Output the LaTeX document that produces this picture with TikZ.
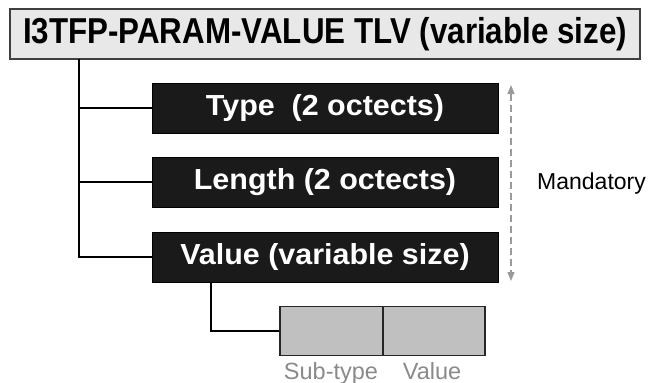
\documentclass[tikz,border=0pt]{standalone}
\usepackage{fontspec}
\setmainfont{Liberation Sans}
\newfontfamily\titlefont[FakeStretch=0.87]{Liberation Sans}
\newfontfamily\boxfont[FakeStretch=1.05]{Liberation Sans}
\usetikzlibrary{arrows.meta}
\definecolor{titlefill}{HTML}{E8E8E8}
\definecolor{boxfill}{HTML}{1A1A1A}
\definecolor{subfill}{HTML}{C0C0C0}
\definecolor{labelgray}{HTML}{8A8A8A}
\definecolor{arrowgray}{HTML}{9A9A9A}
\begin{document}
\begin{tikzpicture}[x=1pt,y=-1pt,
  titlebox/.style={draw=black!75, line width=1.3pt, fill=titlefill, minimum width=630pt, minimum height=50pt, inner sep=0pt,
    font=\titlefont\bfseries\fontsize{36}{40}\selectfont},
  fieldbox/.style={draw=black, line width=0.8pt, fill=boxfill, text=white, minimum width=346pt, minimum height=50pt, inner sep=0pt,
    font=\boxfont\bfseries\fontsize{29}{32}\selectfont},
  subbox/.style={draw=black!85, line width=1.2pt, fill=subfill, minimum height=49pt, inner sep=0pt},
  conn/.style={draw=black, line width=1.2pt},
  sublabel/.style={text=labelgray, font=\fontsize{23.5}{28}\selectfont, inner sep=0pt}
]
\useasboundingbox (0,0) rectangle (651,383);
\node[titlebox] (title) at (325,34) {I3TFP-PARAM-VALUE TLV (variable size)};
\node[fieldbox] (type) at (325,108) {Type\ \ (2 octects)};
\node[fieldbox] (length) at (325,182) {Length (2 octects)};
\node[fieldbox] (value) at (325,257) {Value (variable size)};
\node[subbox, minimum width=103pt] (subtype) at (331.5,331) {};
\node[subbox, minimum width=102pt] (subval) at (434,331) {};
\coordinate (trunk) at (79,59);
\coordinate (vtap) at (211,282);
\draw[conn] (trunk) |- (value.west);
\draw[conn] (trunk |- type.west) -- (type.west);
\draw[conn] (trunk |- length.west) -- (length.west);
\draw[conn] (vtap) |- (subtype.west);
\coordinate (atop) at (511,85);
\coordinate (abot) at (511,281);
\draw[arrowgray, line width=1.2pt, dash pattern=on 7pt off 4pt, {Triangle[width=7pt,length=9pt]}-{Triangle[width=7pt,length=9pt]}] (atop) -- (abot);
\node[anchor=base west, inner sep=0pt, font=\fontsize{23}{27}\selectfont] (mand) at (537,189) {Mandatory};
\node[sublabel, anchor=base] (lsub) at (331,379) {Sub-type};
\node[sublabel, anchor=base] (lval) at (432,379.5) {Value};
\end{tikzpicture}
\end{document}
